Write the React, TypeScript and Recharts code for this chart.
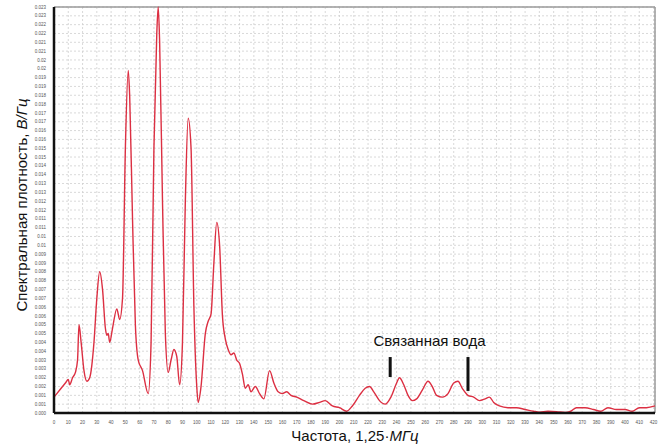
import { LineChart, Line, XAxis, YAxis, CartesianGrid, ReferenceLine, ReferenceDot, Label } from 'recharts';

// Частота, единицы 1,25 МГц
const freq = [
  0, 4, 8, 10, 11, 13, 15, 16.5, 17.5, 19, 21, 23, 25, 28, 30, 32, 34, 36, 37, 38, 39, 41, 44, 46, 48,
  50, 52, 53, 55, 57, 59, 62, 66, 68, 70, 72, 73, 74, 76, 78, 80, 82, 84, 86, 88, 90, 92, 94, 96, 98,
  100, 101, 103, 106, 108, 110, 112, 114, 116, 118, 120, 122, 124, 126, 128, 130, 132, 134, 136, 138,
  141, 144, 147, 151, 154, 157, 160, 163, 166, 170, 175, 181, 186, 190, 195, 200, 205, 209, 214, 218,
  221, 224, 228, 232, 236, 240, 242, 245, 248, 251, 254, 258, 262, 265, 268, 272, 276, 280, 283, 286,
  290, 294, 298, 302, 305, 308, 312, 318, 324, 330, 336, 340, 346, 352, 358, 362, 366, 372, 378, 383,
  388, 394, 400, 405, 410, 415, 421,
];

// Спектральная плотность, В/Гц
const density = [
  0.0009, 0.0013, 0.0017, 0.0019, 0.0016, 0.002, 0.0023, 0.003, 0.005, 0.004, 0.0024, 0.0018, 0.002, 0.004, 0.0065, 0.008, 0.007, 0.0048, 0.0044, 0.0045, 0.004, 0.0048, 0.0059, 0.0053, 0.0065,
  0.015, 0.0194, 0.018, 0.011, 0.005, 0.003, 0.0024, 0.0011, 0.004, 0.015, 0.0215, 0.023, 0.021, 0.012, 0.0045, 0.0023, 0.003, 0.0036, 0.0032, 0.0016, 0.004, 0.012, 0.0167, 0.015, 0.006,
  0.0015, 0.0006, 0.0015, 0.0045, 0.0052, 0.0056, 0.0085, 0.0108, 0.0095, 0.0055, 0.0042, 0.0036, 0.0033, 0.0034, 0.003, 0.0028, 0.0022, 0.0014, 0.0016, 0.0012,
  0.0015, 0.0011, 0.0008, 0.0024, 0.0017, 0.0012, 0.0011, 0.0012, 0.001, 0.0009, 0.0007, 0.0005, 0.0006, 0.0007, 0.0004, 0.0003, 0.0001, 0.0004, 0.001, 0.0014,
  0.0015, 0.0012, 0.0007, 0.0005, 0.0009, 0.0017, 0.002, 0.0016, 0.001, 0.0007, 0.0008, 0.0013, 0.0018, 0.0015, 0.001, 0.0009, 0.0011, 0.0017, 0.0018, 0.0014,
  0.001, 0.0009, 0.0007, 0.0008, 0.0009, 0.0006, 0.0004, 0.0003, 0.0003, 0.0002, 0.0001, 0.00005, 0.0001, 0.00008, 0.00003, 0.0001, 0.0003, 0.0003, 0.0002, 0.0001,
  0.0003, 0.0002, 0.0002, 0.0001, 0.0003, 0.0003, 0.0004,
];

const xTicks = [
  0, 10, 20, 30, 40, 50, 60, 70, 80, 90, 100, 110, 120, 130, 140, 150, 160, 170, 180, 190, 200, 210,
  220, 230, 240, 250, 260, 270, 280, 290, 300, 310, 320, 330, 340, 350, 360, 370, 380, 390, 400, 410, 420,
];

const yTicks = [
  0, 0.0005, 0.001, 0.0015, 0.002, 0.0025, 0.003, 0.0035, 0.004, 0.0045, 0.005, 0.0055, 0.006, 0.0065,
  0.007, 0.0075, 0.008, 0.0085, 0.009, 0.0095, 0.01, 0.0105, 0.011, 0.0115, 0.012, 0.0125, 0.013,
  0.0135, 0.014, 0.0145, 0.015, 0.0155, 0.016, 0.0165, 0.017, 0.0175, 0.018, 0.0185, 0.019, 0.0195,
  0.02, 0.0205, 0.021, 0.0215, 0.022, 0.0225, 0.023,
];

// Метки "связанная вода": [частота, верх, низ]
const markers = [
  [235.5, 0.00317, 0.00204],
  [290, 0.00317, 0.00125],
];

const data = freq.map((f, i) => ({ f, v: density[i] }));

const FONT = '"Liberation Sans", Arial, sans-serif';

const fmtY = (v: number) => (v === 0 ? '0.000' : String(Math.round(v * 1000) / 1000));

export default function App() {
  return (
    <div style={{ position: 'absolute', left: 0, top: 0, width: 659, height: 444, background: '#fff' }}>
      <LineChart width={659} height={444} data={data} margin={{ top: 7, right: 4, left: 30, bottom: 21 }}>
        <CartesianGrid stroke="#cfcfcf" strokeDasharray="2 2" strokeWidth={0.8} />
        <XAxis
          dataKey="f"
          type="number"
          domain={[0, 421]}
          ticks={xTicks}
          interval={0}
          height={10}
          stroke="#111"
          strokeWidth={2.5}
          tickLine={false}
          tick={{ fontSize: 4.5, fill: '#555', fontFamily: FONT }}
          tickMargin={2}
        >
          <Label
            content={() => (
              <text x={355} y={441} textAnchor="middle" fontSize={15} fontFamily={FONT} fill="#111">
                Частота, 1,25·<tspan fontStyle="italic">МГц</tspan>
              </text>
            )}
          />
        </XAxis>
        <YAxis
          type="number"
          domain={[0, 0.023]}
          ticks={yTicks}
          interval={0}
          width={24}
          stroke="#111"
          strokeWidth={2.5}
          tickLine={false}
          tickFormatter={fmtY}
          tick={{ fontSize: 4.5, fill: '#555', fontFamily: FONT }}
          tickMargin={2}
        >
          <Label
            content={() => (
              <text
                x={27}
                y={205}
                textAnchor="middle"
                fontSize={15}
                fontFamily={FONT}
                fill="#111"
                transform="rotate(-90 27 205)"
              >
                Спектральная плотность, <tspan fontStyle="italic">В/Гц</tspan>
              </text>
            )}
          />
        </YAxis>
        <ReferenceLine y={0.023} stroke="#9a9a9a" strokeWidth={1.5} />
        <ReferenceLine x={421} stroke="#9a9a9a" strokeWidth={1.5} />
        {markers.map(([x, top, bottom]) => (
          <ReferenceLine
            key={x}
            segment={[
              { x, y: top },
              { x, y: bottom },
            ]}
            stroke="#111"
            strokeWidth={3}
          />
        ))}
        <ReferenceDot x={263} y={0.0041} r={0} stroke="none" fill="none">
          <Label value="Связанная вода" position="center" fontSize={15} fontFamily={FONT} fill="#111" />
        </ReferenceDot>
        <Line
          type="monotone"
          dataKey="v"
          stroke="#dc2f42"
          strokeWidth={1.4}
          dot={false}
          isAnimationActive={false}
        />
      </LineChart>
    </div>
  );
}
